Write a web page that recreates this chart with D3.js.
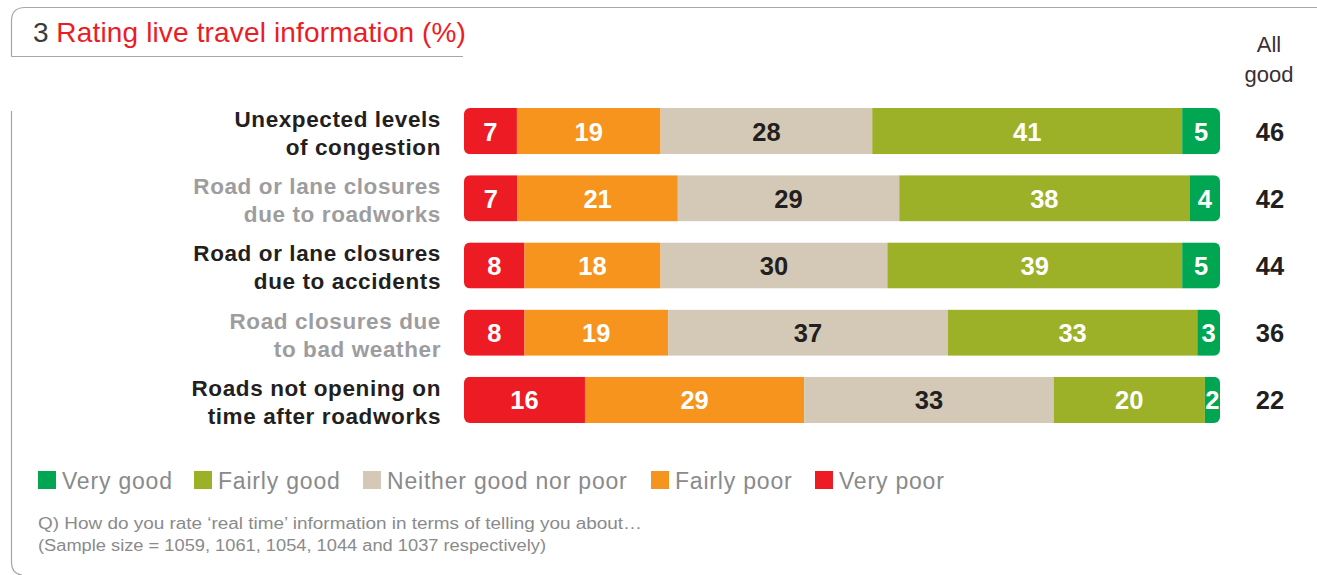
<!DOCTYPE html>
<html>
<head>
<meta charset="utf-8">
<script src="https://cdn.jsdelivr.net/npm/d3@7"></script>
<style>
  html, body { margin: 0; padding: 0; background: #fff; }
  svg { display: block; font-family: "Liberation Sans", Arial, sans-serif; }
</style>
</head>
<body>
<svg id="chart" width="1317" height="575"></svg>
<script>
// Survey items (two-line labels)
const categories = [
  ["Unexpected levels", "of congestion"],
  ["Road or lane closures", "due to roadworks"],
  ["Road or lane closures", "due to accidents"],
  ["Road closures due", "to bad weather"],
  ["Roads not opening on", "time after roadworks"]
];
// Stacking order, left to right
const seriesNames = ["Very poor", "Fairly poor", "Neither good nor poor", "Fairly good", "Very good"];
const veryPoor   = [7, 7, 8, 8, 16];
const fairlyPoor = [19, 21, 18, 19, 29];
const neither    = [28, 29, 30, 37, 33];
const fairlyGood = [41, 38, 39, 33, 20];
const veryGood   = [5, 4, 5, 3, 2];
const allGood    = [46, 42, 44, 36, 22];
// Legend order
const legendOrder = ["Very good", "Fairly good", "Neither good nor poor", "Fairly poor", "Very poor"];

const colors = {
  "Very poor": "#ed1c24",
  "Fairly poor": "#f7941d",
  "Neither good nor poor": "#d3c9b6",
  "Fairly good": "#9cb128",
  "Very good": "#00a651"
};
const valueColors = {
  "Very poor": "#ffffff",
  "Fairly poor": "#ffffff",
  "Neither good nor poor": "#231f20",
  "Fairly good": "#ffffff",
  "Very good": "#ffffff"
};

const seriesValues = [veryPoor, fairlyPoor, neither, fairlyGood, veryGood];
const rows = categories.map((c, i) => ({
  index: i,
  label: c,
  values: seriesValues.map((arr, s) => ({ name: seriesNames[s], value: arr[i] })),
  allGood: allGood[i]
}));

const svg = d3.select("#chart");

// Frame lines
const frame = svg.append("g").attr("fill", "none").attr("stroke", "#a7a7a7").attr("stroke-width", 1.2);
frame.append("path").attr("d", "M11.5,56.5 V21 Q11.5,7.5 25,7.5 H1317");
frame.append("path").attr("d", "M11.5,56.5 H463");
frame.append("path").attr("d", "M11.5,111 V562 Q11.5,574 22,575");

// Title
const title = svg.append("text").attr("x", 33).attr("y", 42).attr("font-size", 28);
title.append("tspan").attr("fill", "#3b3b3b").text("3 ");
title.append("tspan").attr("fill", "#ed1c24").attr("letter-spacing", 0.15).text("Rating live travel information (%)");

// Scales
const y = d3.scaleBand()
  .domain(rows.map(r => r.index))
  .range([108, 423])
  .paddingInner(0.313)
  .paddingOuter(0);

const barLeft = 464, barRight = 1220;

const defs = svg.append("defs");
const rowG = svg.selectAll("g.row").data(rows).join("g").attr("class", "row");

rowG.each(function(r) {
  const g = d3.select(this);
  const total = d3.sum(r.values, d => d.value);
  const x = d3.scaleLinear().domain([0, total]).range([barLeft, barRight]);
  const y0 = y(r.index), h = y.bandwidth();

  // rounded outer ends
  const clipId = "clip-" + r.index;
  defs.append("clipPath").attr("id", clipId)
    .append("rect")
    .attr("x", x(0)).attr("y", y0)
    .attr("width", x(total) - x(0)).attr("height", h)
    .attr("rx", 6).attr("ry", 6);

  let acc = 0;
  const segs = r.values.map(d => {
    const s = { name: d.name, value: d.value, start: acc, end: acc + d.value };
    acc += d.value;
    return s;
  });

  g.append("g").attr("clip-path", `url(#${clipId})`)
    .selectAll("rect").data(segs).join("rect")
    .attr("x", d => x(d.start))
    .attr("y", y0)
    .attr("width", d => x(d.end) - x(d.start))
    .attr("height", h)
    .attr("fill", d => colors[d.name]);

  g.selectAll("text.val").data(segs).join("text")
    .attr("class", "val")
    .attr("x", d => x((d.start + d.end) / 2))
    .attr("y", y0 + h / 2 + 9.5)
    .attr("text-anchor", "middle")
    .attr("font-size", 25.5)
    .attr("font-weight", "bold")
    .attr("fill", d => valueColors[d.name])
    .text(d => d.value);

  // category label
  const labelColor = r.index % 2 === 0 ? "#231f20" : "#9d9d9f";
  g.selectAll("text.cat").data(r.label).join("text")
    .attr("class", "cat")
    .attr("x", 441)
    .attr("y", (d, i) => y0 + 19 + i * 28)
    .attr("text-anchor", "end")
    .attr("font-size", 22.5)
    .attr("letter-spacing", 0.6)
    .attr("font-weight", "bold")
    .attr("fill", labelColor)
    .text(d => d);

  // All good total
  g.append("text")
    .attr("x", 1270)
    .attr("y", y0 + h / 2 + 9.5)
    .attr("text-anchor", "middle")
    .attr("font-size", 25.5)
    .attr("font-weight", "bold")
    .attr("fill", "#231f20")
    .text(r.allGood);
});

// Column header
svg.selectAll("text.hdr").data(["All", "good"]).join("text")
  .attr("class", "hdr")
  .attr("x", 1269)
  .attr("y", (d, i) => 52 + i * 30)
  .attr("text-anchor", "middle")
  .attr("font-size", 22)
  .attr("fill", "#3a2f35")
  .text(d => d);

// Legend
const legendX = [38, 194, 363, 651, 815];
const leg = svg.selectAll("g.leg").data(legendOrder).join("g")
  .attr("class", "leg")
  .attr("transform", (d, i) => `translate(${legendX[i]},471)`);
leg.append("rect").attr("width", 18).attr("height", 18).attr("fill", d => colors[d]);
leg.append("text")
  .attr("x", 24).attr("y", 18)
  .attr("font-size", 23)
  .attr("letter-spacing", 0.8)
  .attr("fill", "#8a8a8c")
  .text(d => d);

// Footnote
const notes = [
  "Q) How do you rate \u2018real time\u2019 information in terms of telling you about\u2026",
  "(Sample size = 1059, 1061, 1054, 1044 and 1037 respectively)"
];
const noteWidths = [604, 508];
svg.selectAll("text.note").data(notes).join("text")
  .attr("class", "note")
  .attr("x", 38)
  .attr("y", (d, i) => 529 + i * 22)
  .attr("font-size", 16)
  .attr("fill", "#8a8a8c")
  .attr("textLength", (d, i) => noteWidths[i])
  .attr("lengthAdjust", "spacingAndGlyphs")
  .text(d => d);
</script>
</body>
</html>
